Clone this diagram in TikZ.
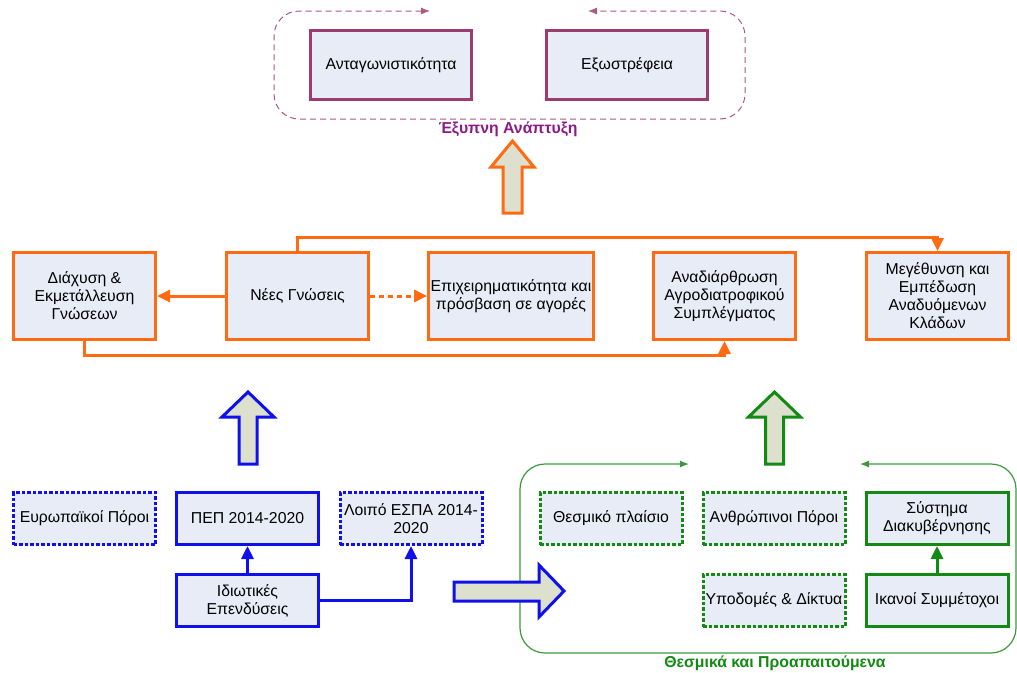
\documentclass[tikz,border=0pt]{standalone}
\usepackage{fontspec}
\setmainfont{Liberation Sans}
\usetikzlibrary{arrows.meta,positioning,calc}
\definecolor{boxfill}{HTML}{E7ECF7}
\definecolor{arrowfill}{HTML}{DCE0CC}
\definecolor{plum}{HTML}{9B3B6F}
\definecolor{plumtext}{HTML}{8A1A8A}
\definecolor{tangerine}{HTML}{FF6A13}
\definecolor{royal}{HTML}{1010EE}
\definecolor{forest}{HTML}{138A13}
\definecolor{leaf}{HTML}{3A9A3A}
\tikzset{
  box/.style={draw, line width=3pt, fill=boxfill, minimum width=142pt, minimum height=52pt,
    align=center, inner sep=2pt, font=\fontsize{15.8}{18}\selectfont},
  dotbox/.style={box, dash pattern=on 3.5pt off 2pt},
  tip/.style={-{Triangle[length=13pt,width=12pt]}},
  bigarrow/.style={line width=3pt, fill=arrowfill, line join=miter},
  caption/.style={font=\fontsize{15.8}{18}\selectfont\bfseries},
}

\begin{document}
\begin{tikzpicture}[x=1pt,y=-1pt]
\useasboundingbox (0,0) rectangle (1017,672);

% smart growth
\node[box, draw=plum, minimum width=161pt, minimum height=69pt] (compet) at (391,65) {Ανταγωνιστικότητα};
\node[box, draw=plum, minimum width=161pt, minimum height=69pt] (extro) at (627,65) {Εξωστρέφεια};
\draw[plum!85, line width=1pt, dash pattern=on 6pt off 4pt, rounded corners=25pt,
  {Latex[length=9pt,width=7pt]}-{Latex[length=9pt,width=7pt]}]
  (430,11) -| (274,119) -| (745,11) -- (588,11);
\node[caption, text=plumtext] (smart) at (508,129) {Έξυπνη Ανάπτυξη};
\draw[bigarrow, draw=tangerine] (503,213) -- (503,167) -- (491,167) -- (512.5,141)
  -- (534,167) -- (522,167) -- (522,213) -- cycle;

% knowledge row
\node[box, draw=tangerine, minimum height=87pt] (diax) at (84.5,296) {Διάχυση \&\\Εκμετάλλευση\\Γνώσεων};
\node[box, draw=tangerine, minimum height=87pt] (nees) at (297.5,296) {Νέες Γνώσεις};
\node[box, draw=tangerine, minimum width=161pt, minimum height=87pt] (epix) at (511,296) {Επιχειρηματικότητα και\\πρόσβαση σε αγορές};
\node[box, draw=tangerine, minimum height=87pt] (anad) at (724.5,296) {Αναδιάρθρωση\\Αγροδιατροφικού\\Συμπλέγματος};
\node[box, draw=tangerine, minimum height=87pt] (meg) at (937.5,296) {Μεγέθυνση και\\Εμπέδωση\\Αναδυόμενων\\Κλάδων};
\draw[tangerine, line width=3pt, tip] (nees) -- (diax);
\draw[tangerine, line width=3pt, tip, dash pattern=on 5pt off 4pt] (nees) -- (epix);
\draw[tangerine, line width=3pt, tip] (nees.north) -- ++(0,-14) -| (meg.north);
\draw[tangerine, line width=3pt, tip] (diax.south) -- ++(0,14) -| (anad.south);

% funding
\draw[bigarrow, draw=royal] (239,464) -- (239,417) -- (222,417) -- (248,392)
  -- (274,417) -- (257,417) -- (257,464) -- cycle;
\node[dotbox, draw=royal] (evr) at (84.5,518.5) {Ευρωπαϊκοί Πόροι};
\node[box, draw=royal] (pep) at (247.5,518.5) {ΠΕΠ 2014-2020};
\node[dotbox, draw=royal] (loip) at (411,518.5) {Λοιπό ΕΣΠΑ 2014-\\2020};
\node[box, draw=royal] (idiot) at (247.5,600.5) {Ιδιωτικές\\Επενδύσεις};
\draw[royal, line width=3pt, tip] (idiot) -- (pep);
\draw[royal, line width=3pt, tip] (idiot.east) -| (loip.south);

% prerequisites
\draw[leaf, line width=1.2pt, rounded corners=25pt,
  {Latex[length=9pt,width=7pt]}-{Latex[length=9pt,width=7pt]}]
  (689,464) -| (520,653) -| (1016,464) -- (860,464);
\draw[bigarrow, draw=royal] (454,582) -- (539,582) -- (539,565) -- (564,591)
  -- (539,617) -- (539,601) -- (454,601) -- cycle;
\draw[bigarrow, draw=forest] (765.5,464) -- (765.5,417) -- (748.5,417) -- (774.5,392)
  -- (800.5,417) -- (783.5,417) -- (783.5,464) -- cycle;
\node[dotbox, draw=forest] (thes) at (611,518.5) {Θεσμικό πλαίσιο};
\node[dotbox, draw=forest] (anth) at (774,518.5) {Ανθρώπινοι Πόροι};
\node[box, draw=forest] (syst) at (937,518.5) {Σύστημα\\Διακυβέρνησης};
\node[dotbox, draw=forest] (ypod) at (774,600.5) {Υποδομές \& Δίκτυα};
\node[box, draw=forest] (ikan) at (937,600.5) {Ικανοί Συμμέτοχοι};
\draw[forest, line width=3pt, tip] (ikan) -- (syst);
\node[caption, text=forest] (prereq) at (775,663) {Θεσμικά και Προαπαιτούμενα};
\end{tikzpicture}
\end{document}
